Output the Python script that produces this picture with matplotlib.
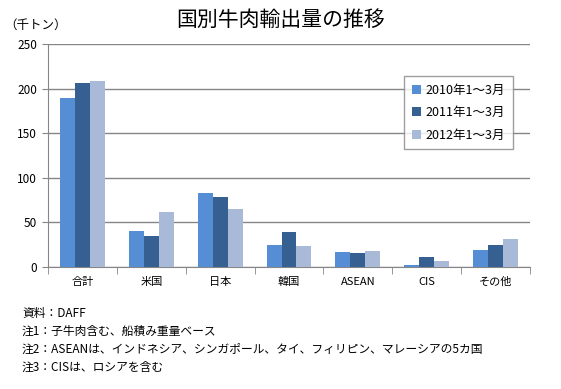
import matplotlib

matplotlib.use("Agg")
import matplotlib.pyplot as plt
import numpy as np

plt.rcParams["font.family"] = ["Noto Sans CJK JP", "DejaVu Sans"]

categories = ["合計", "米国", "日本", "韓国", "ASEAN", "CIS", "その他"]
series_names = ["2010年1～3月", "2011年1～3月", "2012年1～3月"]
v2010 = [189, 40, 83, 25, 17, 2, 19]
v2011 = [206, 35, 79, 39, 16, 11, 25]
v2012 = [209, 62, 65, 23, 18, 7, 31]
colors = ["#558ED5", "#376092", "#A9B9D8"]
notes = [
    "資料：DAFF",
    "注1：子牛肉含む、船積み重量ベース",
    "注2：ASEANは、インドネシア、シンガポール、タイ、フィリピン、マレーシアの5カ国",
    "注3：CISは、ロシアを含む",
]

W, H = 561, 389
fig = plt.figure(figsize=(W / 100, H / 100), dpi=100)
ax = fig.add_axes([48 / W, 1 - 267 / H, (530 - 48) / W, (267 - 44) / H])

x = np.arange(len(categories))
bw = 0.217
for i, (vals, name) in enumerate(zip([v2010, v2011, v2012], series_names)):
    ax.bar(x + (i - 1) * bw, vals, bw, color=colors[i], label=name, zorder=3)

ax.set_xlim(-0.5, len(categories) - 0.5)
ax.set_ylim(0, 250)
ax.set_yticks(range(0, 251, 50))
ax.grid(axis="y", color="#868686", lw=1, zorder=0)
for s in ["top", "right"]:
    ax.spines[s].set_visible(False)
for s in ["left", "bottom"]:
    ax.spines[s].set_color("#868686")
ax.set_xticks(x)
ax.set_xticklabels(categories, fontsize=8)
ax.tick_params(axis="x", length=0, pad=7)
ax.set_xticks(np.arange(-0.5, len(categories), 1), minor=True)
ax.tick_params(axis="x", which="minor", length=5, color="#868686")
ax.tick_params(axis="y", length=4, color="#868686", labelsize=8.5, pad=4)

leg = ax.legend(loc="upper left", bbox_to_anchor=((398 - 48) / (530 - 48), (267 - 70) / (267 - 44)),
                fontsize=9, frameon=True, fancybox=False, handlelength=0.7, handleheight=0.7,
                handletextpad=0.4, labelspacing=0.75, borderpad=0.6)
leg.get_frame().set_edgecolor("#868686")
leg.get_frame().set_linewidth(1)

fig.text(0.5, 1 - 20 / H, "国別牛肉輸出量の推移", ha="center", va="center", fontsize=15)
fig.text(4 / W, 1 - 25 / H, "（千トン）", ha="left", va="center", fontsize=9)
for k, line in enumerate(notes):
    fig.text(22 / W, 1 - (313 + 18 * k) / H, line, ha="left", va="center", fontsize=8.5)

fig.savefig("out.png", dpi=100)
